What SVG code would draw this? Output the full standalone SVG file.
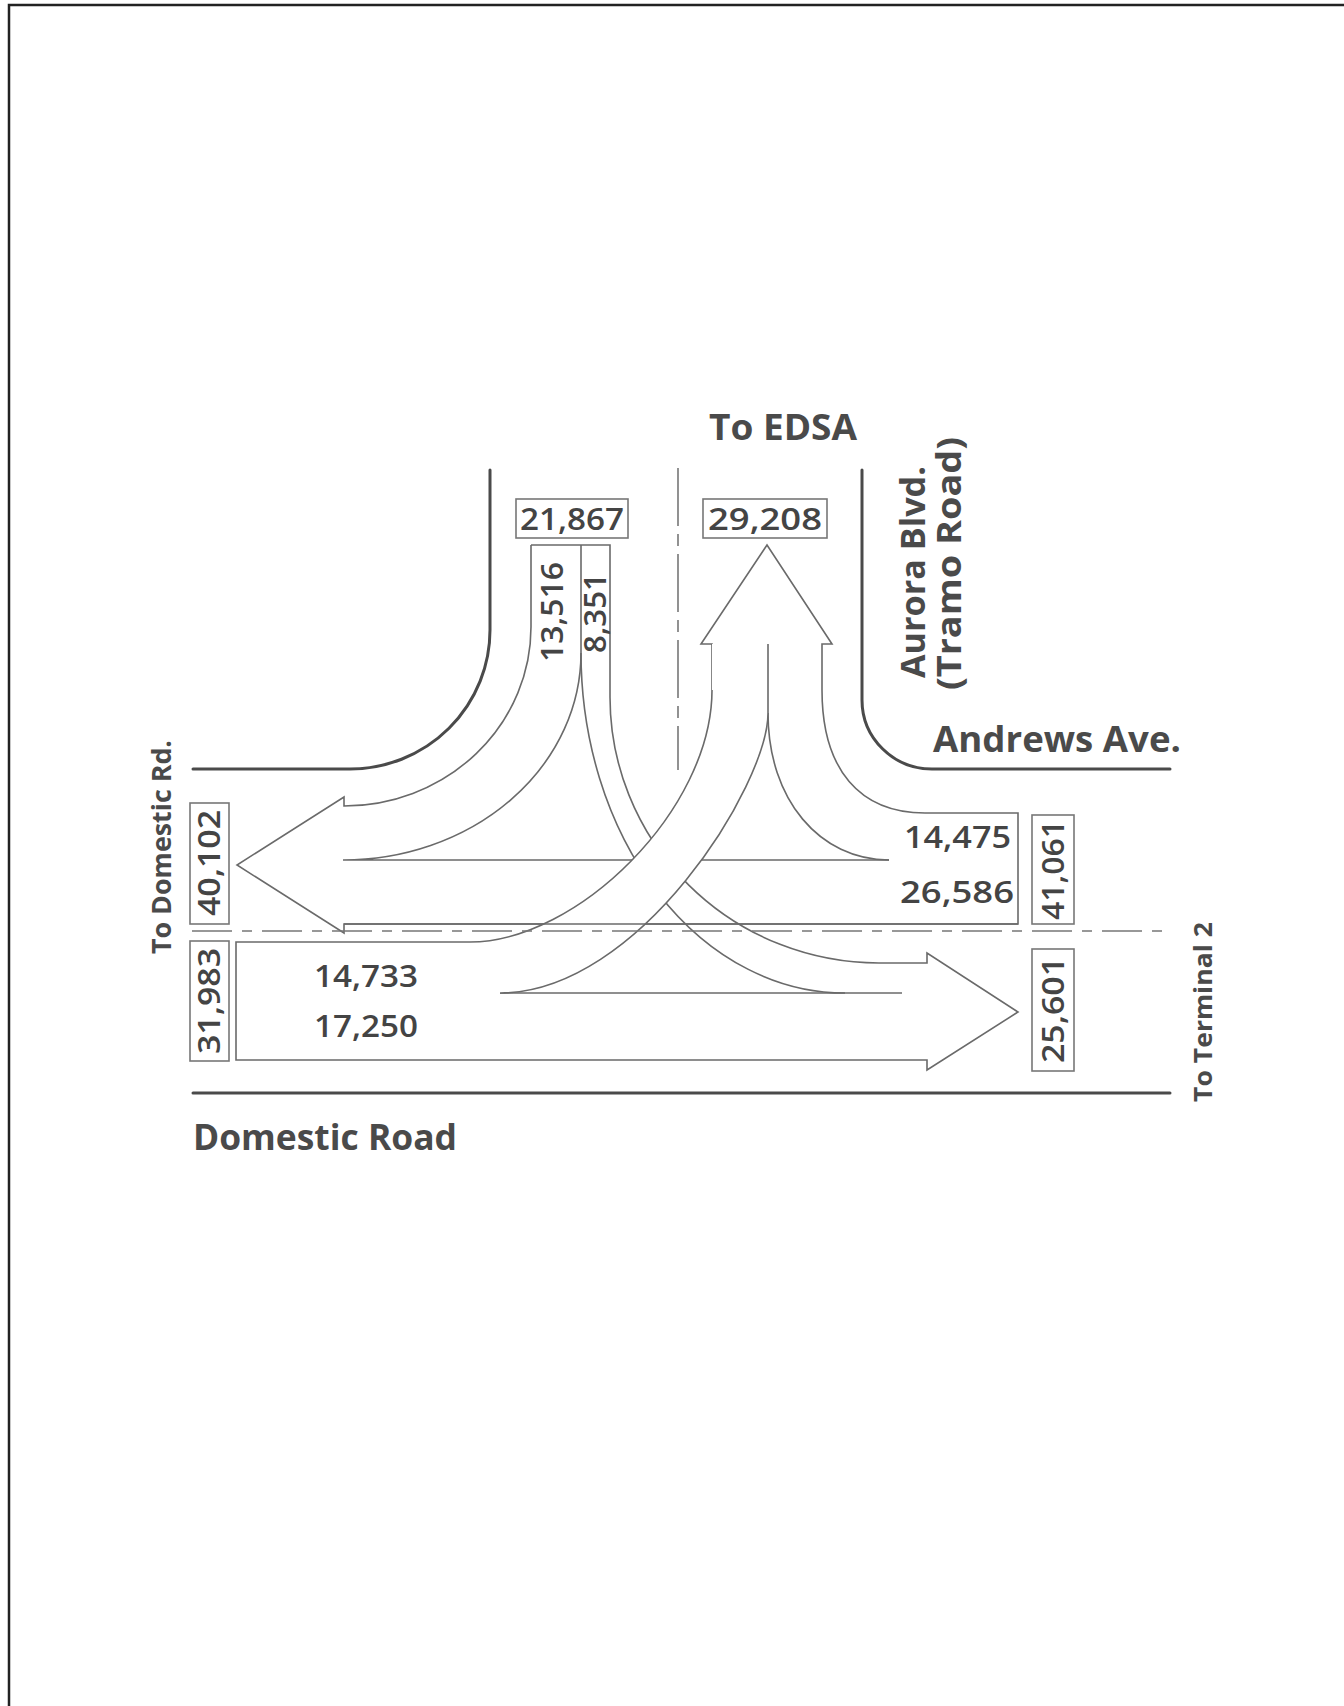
<svg xmlns="http://www.w3.org/2000/svg" width="1344" height="1706" viewBox="0 0 1344 1706">
<style>
.road{fill:none;stroke:#4a4a4a;stroke-width:3;stroke-linecap:round}
.flow{fill:none;stroke:#6a6a6a;stroke-width:1.6;stroke-linejoin:miter}
.cl{fill:none;stroke:#777;stroke-width:1.6}
.box{fill:none;stroke:#777;stroke-width:1.6}
.lbl{font-family:"Open Sans","DejaVu Sans",sans-serif;font-weight:700;fill:#4a4a4a}
.num{font-family:"Open Sans","DejaVu Sans",sans-serif;font-weight:600;fill:#444;font-size:31px}
</style>
<rect width="1344" height="1706" fill="#fff"/>
<path d="M9,1706 V5 H1344" fill="none" stroke="#222" stroke-width="2.5"/>
<g id="roads">
<path class="road" d="M490,470 V630 A140,139 0 0 1 350,769 H193"/>
<path class="road" d="M862,470 V700 A70,69 0 0 0 932,769 H1170"/>
<path class="road" d="M193,1093 H1170"/>
</g>
<g id="connectors">
<path class="flow" d="M531,545 V627 A187,179 0 0 1 344,806 V797 L237,865 L344,933 V924 H1018 V813 H925 C860,813 822,770 822,690 V644 H832 L767,545 L701,644 H712 V690"/>
<path class="flow" d="M470,942 H236 V1060 H927 V1070 L1018,1012 L927,953 V963 H879 A269,266 0 0 1 610,697 V545 H531"/>
<path class="flow" d="M581,545 V653 A238,207 0 0 1 343,860 H889"/>
<path class="flow" d="M581,653 A264,340 0 0 0 845,993"/>
<path class="flow" d="M500,993 H902"/>
<path class="flow" d="M768,713 C768,800 820,860 889,860"/>
<path d="M712,644 V690 C712,810 577,942 470,942 L500,993 C639,993 768,785 768,713 V644 Z" fill="#fff" stroke="none"/>
<path class="flow" d="M712,690 C712,810 577,942 470,942"/>
<path class="flow" d="M500,993 C639,993 768,785 768,713 V644"/>
<path class="flow" d="M344,924 H1018"/>
<path class="cl" d="M678,468 V770" stroke-dasharray="58 8 12 8"/>
<path class="cl" d="M192,931 H1170" stroke-dasharray="40 10 10 10"/>
</g>
<g id="box-21867"><rect class="box" x="516" y="499" width="112" height="39"/><text class="num" x="572" y="530" text-anchor="middle" textLength="104" lengthAdjust="spacingAndGlyphs">21,867</text></g>
<g id="box-29208"><rect class="box" x="703" y="499" width="124" height="39"/><text class="num" x="765" y="530" text-anchor="middle" textLength="114" lengthAdjust="spacingAndGlyphs">29,208</text></g>
<g id="box-40102"><rect class="box" x="190" y="803" width="39" height="121"/><text class="num" transform="translate(220,863) rotate(-90)" text-anchor="middle" textLength="106" lengthAdjust="spacingAndGlyphs">40,102</text></g>
<g id="box-31983"><rect class="box" x="190" y="941" width="39" height="120"/><text class="num" transform="translate(220,1001) rotate(-90)" text-anchor="middle" textLength="106" lengthAdjust="spacingAndGlyphs">31,983</text></g>
<g id="box-41061"><rect class="box" x="1032" y="815" width="42" height="109"/><text class="num" transform="translate(1064,870) rotate(-90)" text-anchor="middle" textLength="100" lengthAdjust="spacingAndGlyphs">41,061</text></g>
<g id="box-25601"><rect class="box" x="1032" y="949" width="42" height="122"/><text class="num" transform="translate(1064,1010) rotate(-90)" text-anchor="middle" textLength="106" lengthAdjust="spacingAndGlyphs">25,601</text></g>
<g id="flow-13516"><text class="num" transform="translate(563,612) rotate(-90)" text-anchor="middle" textLength="100" lengthAdjust="spacingAndGlyphs">13,516</text></g>
<g id="flow-8351"><text class="num" transform="translate(606,613) rotate(-90)" text-anchor="middle" textLength="80" lengthAdjust="spacingAndGlyphs">8,351</text></g>
<g id="flow-14475"><text class="num" x="1011" y="848" text-anchor="end" textLength="107" lengthAdjust="spacingAndGlyphs">14,475</text></g>
<g id="flow-26586"><text class="num" x="1014" y="903" text-anchor="end" textLength="114" lengthAdjust="spacingAndGlyphs">26,586</text></g>
<g id="flow-14733"><text class="num" x="314" y="987" textLength="104" lengthAdjust="spacingAndGlyphs">14,733</text></g>
<g id="flow-17250"><text class="num" x="314" y="1037" textLength="104" lengthAdjust="spacingAndGlyphs">17,250</text></g>
<g id="label-edsa"><text class="lbl" x="709" y="440" font-size="36" textLength="148" lengthAdjust="spacingAndGlyphs">To EDSA</text></g>
<g id="label-aurora"><text class="lbl" transform="translate(925,678) rotate(-90)" font-size="34" textLength="212" lengthAdjust="spacingAndGlyphs">Aurora Blvd.</text><text class="lbl" transform="translate(961,690) rotate(-90)" font-size="34" textLength="253" lengthAdjust="spacingAndGlyphs">(Tramo Road)</text></g>
<g id="label-andrews"><text class="lbl" x="933" y="752" font-size="35" textLength="248" lengthAdjust="spacingAndGlyphs">Andrews Ave.</text></g>
<g id="label-domestic-road"><text class="lbl" x="193" y="1150" font-size="35" textLength="264" lengthAdjust="spacingAndGlyphs">Domestic Road</text></g>
<g id="label-to-domestic"><text class="lbl" transform="translate(171,954) rotate(-90)" font-size="27" textLength="214" lengthAdjust="spacingAndGlyphs">To Domestic Rd.</text></g>
<g id="label-terminal2"><text class="lbl" transform="translate(1212,1102) rotate(-90)" font-size="25" textLength="180" lengthAdjust="spacingAndGlyphs">To Terminal 2</text></g>
</svg>
